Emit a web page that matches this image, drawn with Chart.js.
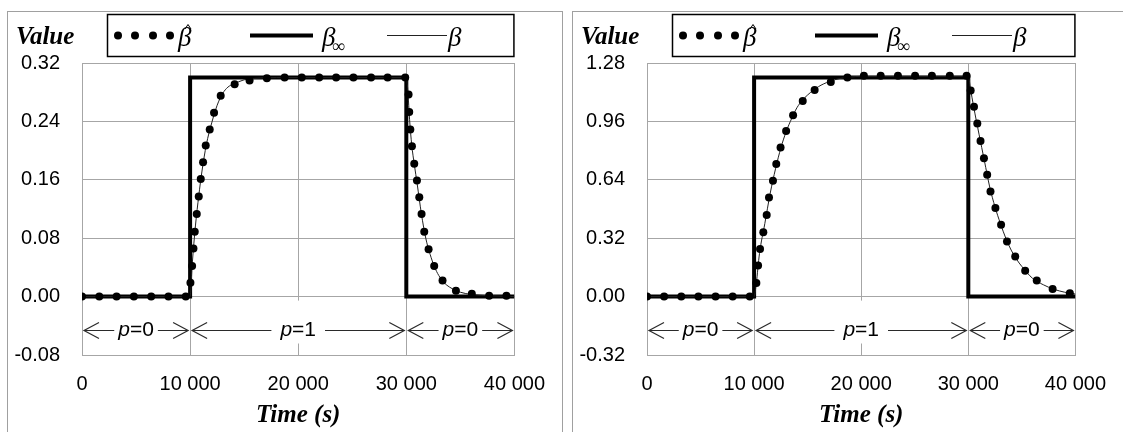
<!DOCTYPE html>
<html>
<head>
<meta charset="utf-8">
<script src="https://cdn.jsdelivr.net/npm/chart.js@4.4.0/dist/chart.umd.min.js"></script>
<style>
  html, body { margin: 0; padding: 0; background: #fff; }
  body { width: 1123px; height: 432px; position: relative; overflow: hidden; }
  .panel { position: absolute; top: 11px; height: 440px; border: 1px solid #a0a0a0; box-sizing: border-box; }
  .wrap { position: absolute; top: 0; height: 432px; }
</style>
</head>
<body>
<div class="panel" style="left:7px;width:556px"></div>
<div class="panel" style="left:572px;width:600px"></div>
<div class="wrap" style="left:0;width:562px"><canvas id="chartA"></canvas></div>
<div class="wrap" style="left:566px;width:557px"><canvas id="chartB"></canvas></div>
<script>
// x axis ticks (s) and the three p-periods
const timeTicks = [0, 10000, 20000, 30000, 40000];
const periodEdges = [0, 10000, 30000, 40000];
const periodLabels = ['0', '1', '0'];

// left panel: estimate (dots), steady state (thick), true value (thin)
const hatTimesA = [0, 1600, 3200, 4800, 6400, 8000, 9600,
  10030, 10185, 10310, 10430, 10615, 10800, 10985, 11200, 11445, 11815, 12215, 12830, 14120, 15500, 17100, 18740,
  20330, 21940, 23510, 25110, 26740, 28270, 29900,
  30210, 30270, 30370, 30520, 30735, 30985, 31200, 31410, 31660, 32060, 32580, 33350, 34590, 36060, 37660, 39260];
const hatValuesA = [0, 0, 0, 0, 0, 0, 0,
  0.019, 0.042, 0.066, 0.089, 0.113, 0.137, 0.161, 0.184, 0.207, 0.229, 0.252, 0.275, 0.291, 0.296, 0.299, 0.300,
  0.300, 0.300, 0.300, 0.300, 0.300, 0.300, 0.300,
  0.277, 0.253, 0.229, 0.206, 0.182, 0.159, 0.136, 0.113, 0.089, 0.065, 0.042, 0.022, 0.008, 0.004, 0.001, 0.001];
const stepTimesA = [0, 10000, 10000, 30000, 30000, 40000];
const stepValuesA = [0, 0, 0.30, 0.30, 0, 0];
const betaTimesA = [0, 10000, 10200, 10500, 10800, 11100, 11500, 12000, 12500, 13000, 13500, 14000, 15000, 16000, 18000,
  30000, 30100, 30200, 30300, 30500, 30750, 31000, 31400, 31800, 32200, 32600, 33000, 33500, 34000, 35000, 36000, 38000, 40000];
const betaValuesA = [0, 0, 0.045, 0.098, 0.138, 0.172, 0.208, 0.238, 0.262, 0.278, 0.287, 0.291, 0.297, 0.299, 0.300,
  0.300, 0.290, 0.268, 0.243, 0.208, 0.180, 0.155, 0.113, 0.080, 0.058, 0.041, 0.029, 0.019, 0.013, 0.006, 0.003, 0.001, 0];
const valueTicksA = [-0.08, 0.00, 0.08, 0.16, 0.24, 0.32];

// right panel
const hatTimesB = [0, 1600, 3200, 4800, 6400, 8000, 9600,
  10210, 10370, 10555, 10860, 11175, 11390, 11760, 12070, 12470, 12990, 13640, 14540, 15650, 17160, 18710, 20250,
  21820, 23430, 25030, 26600, 28270, 29840,
  30220, 30530, 30840, 31140, 31460, 31760, 32070, 32530, 33060, 33610, 34380, 35310, 36390, 37870, 39480];
const hatValuesB = [0, 0, 0, 0, 0, 0, 0,
  0.075, 0.170, 0.261, 0.352, 0.447, 0.543, 0.635, 0.726, 0.817, 0.908, 0.994, 1.072, 1.132, 1.176, 1.200, 1.210,
  1.210, 1.210, 1.210, 1.210, 1.210, 1.210,
  1.130, 1.040, 0.948, 0.853, 0.758, 0.667, 0.576, 0.485, 0.394, 0.302, 0.220, 0.142, 0.088, 0.042, 0.018];
const stepTimesB = [0, 10000, 10000, 30000, 30000, 40000];
const stepValuesB = [0, 0, 1.20, 1.20, 0, 0];
const betaTimesB = [0, 10000, 10200, 10500, 11000, 11500, 12000, 12500, 13000, 13500, 14000, 14500, 15000, 16000, 17000, 18000, 19000, 20000,
  30000, 30200, 30500, 31000, 31500, 32000, 32500, 33000, 33500, 34000, 34500, 35000, 36000, 37000, 38000, 39000, 40000];
const betaValuesB = [0, 0, 0.070, 0.235, 0.400, 0.565, 0.700, 0.815, 0.905, 0.975, 1.035, 1.075, 1.105, 1.150, 1.178, 1.195, 1.203, 1.207,
  1.207, 1.140, 1.040, 0.890, 0.745, 0.600, 0.490, 0.400, 0.320, 0.255, 0.205, 0.165, 0.100, 0.065, 0.040, 0.024, 0.014];
const valueTicksB = [-0.32, 0.00, 0.32, 0.64, 0.96, 1.28];

const SERIF = '"Liberation Serif", "Times New Roman", serif';
const SANS = '"Liberation Sans", Arial, sans-serif';

Chart.defaults.font.family = SANS;
Chart.defaults.font.size = 20;
Chart.defaults.color = '#000';

function toPoints(xs, ys) {
  return xs.map((t, i) => ({ x: t, y: ys[i] }));
}

function fmtTime(v) {
  return String(v).replace(/\B(?=(\d{3})+(?!\d))/g, ' ');
}

// "p=0" style text: italic p, upright rest
function periodText(ctx, label, cx, cy) {
  const pFont = 'italic 21px ' + SANS;
  const rFont = '21px ' + SANS;
  ctx.font = pFont;
  const wp = ctx.measureText('p').width;
  ctx.font = rFont;
  const wr = ctx.measureText('=' + label).width;
  const w = wp + wr;
  const x0 = cx - w / 2;
  ctx.textBaseline = 'middle';
  ctx.textAlign = 'left';
  ctx.fillStyle = '#000';
  ctx.font = pFont;
  ctx.fillText('p', x0, cy);
  ctx.font = rFont;
  ctx.fillText('=' + label, x0 + wp, cy);
  return w;
}

function arrowHead(ctx, x, y, dir) {
  ctx.beginPath();
  ctx.moveTo(x + dir * 15, y - 8);
  ctx.lineTo(x, y);
  ctx.lineTo(x + dir * 15, y + 8);
  ctx.stroke();
}

function betaGlyph(ctx, x, baseline) {
  ctx.font = 'italic 27px ' + SERIF;
  ctx.textAlign = 'left';
  ctx.textBaseline = 'alphabetic';
  ctx.fillStyle = '#000';
  ctx.fillText('β', x, baseline);
  return ctx.measureText('β').width;
}

const decorations = {
  id: 'decorations',
  beforeDatasetsDraw(chart) {
    const { ctx, chartArea, scales: { x, y } } = chart;
    const y0 = y.getPixelForValue(0);
    const rowY = Math.round(y0 + (chartArea.bottom - y0) * 0.57) + 0.5;
    ctx.save();
    ctx.strokeStyle = '#2a2a2a';
    ctx.lineWidth = 1.2;
    for (let i = 0; i < periodLabels.length; i++) {
      const xa = x.getPixelForValue(periodEdges[i]) + 2;
      const xb = x.getPixelForValue(periodEdges[i + 1]) - 2;
      const cx = (xa + xb) / 2;
      ctx.font = 'italic 21px ' + SANS;
      const wp = ctx.measureText('p').width;
      ctx.font = '21px ' + SANS;
      const w = wp + ctx.measureText('=' + periodLabels[i]).width;
      // white text box sits over the grid
      ctx.fillStyle = '#fff';
      ctx.fillRect(cx - w / 2 - 6, y0 + 4, w + 12, rowY + 13 - (y0 + 4));
      periodText(ctx, periodLabels[i], cx, rowY);
      const gap = i === 1 ? 9 : 4;
      ctx.beginPath();
      ctx.moveTo(xa, rowY);
      ctx.lineTo(cx - w / 2 - gap, rowY);
      ctx.moveTo(cx + w / 2 + gap, rowY);
      ctx.lineTo(xb, rowY);
      ctx.stroke();
      arrowHead(ctx, xa, rowY, 1);
      arrowHead(ctx, xb, rowY, -1);
    }
    ctx.restore();
  },
  afterDraw(chart) {
    const { ctx, chartArea } = chart;
    ctx.save();
    // axis titles
    ctx.fillStyle = '#000';
    ctx.font = 'bold italic 25px ' + SERIF;
    ctx.textBaseline = 'alphabetic';
    ctx.textAlign = 'left';
    ctx.fillText('Value', chartArea.left - 66, 44);
    ctx.textAlign = 'center';
    ctx.fillText('Time (s)', (chartArea.left + chartArea.right) / 2, 422);

    // legend box
    const L = chartArea.left + 25;
    const R = chartArea.right - 1;
    const T = 14, B = 56, cy = 35.5;
    ctx.fillStyle = '#fff';
    ctx.fillRect(L, T, R - L, B - T);
    ctx.strokeStyle = '#000';
    ctx.lineWidth = 1.5;
    ctx.strokeRect(L + 0.5, T + 0.5, R - L, B - T);

    ctx.fillStyle = '#000';
    [11, 28, 46, 63].forEach(dx => {
      ctx.beginPath();
      ctx.arc(L + dx, cy, 4, 0, Math.PI * 2);
      ctx.fill();
    });
    betaGlyph(ctx, L + 71, 46);
    ctx.lineWidth = 1;
    ctx.beginPath();
    ctx.moveTo(L + 78, 29);
    ctx.lineTo(L + 81, 24.5);
    ctx.lineTo(L + 84, 29);
    ctx.stroke();

    ctx.lineWidth = 4;
    ctx.beginPath();
    ctx.moveTo(L + 143, cy);
    ctx.lineTo(L + 206, cy);
    ctx.stroke();
    const wb = betaGlyph(ctx, L + 215, 46);
    ctx.font = 'italic 18px ' + SERIF;
    ctx.fillText('∞', L + 215 + wb - 3, 52);

    ctx.lineWidth = 1;
    ctx.strokeStyle = '#222';
    ctx.beginPath();
    ctx.moveTo(L + 280, cy);
    ctx.lineTo(L + 340, cy);
    ctx.stroke();
    betaGlyph(ctx, L + 341, 46);
    ctx.restore();
  }
};

function makeChart(id, hat, beta, step, valueTicks, yWidth, padRight) {
  const ctx = document.getElementById(id).getContext('2d');
  return new Chart(ctx, {
    type: 'scatter',
    data: {
      datasets: [
        {
          label: 'β̂',
          data: hat,
          showLine: false,
          pointRadius: 4,
          pointBackgroundColor: '#000',
          pointBorderWidth: 0,
          order: 0
        },
        {
          label: 'β',
          data: beta,
          showLine: true,
          borderColor: '#222',
          borderWidth: 1,
          pointRadius: 0,
          cubicInterpolationMode: 'monotone',
          order: 1
        },
        {
          label: 'β∞',
          data: step,
          showLine: true,
          borderColor: '#000',
          borderWidth: 4,
          pointRadius: 0,
          tension: 0,
          borderJoinStyle: 'miter',
          order: 2
        }
      ]
    },
    options: {
      responsive: true,
      maintainAspectRatio: false,
      animation: false,
      devicePixelRatio: 1,
      layout: { padding: { top: 63, right: padRight, bottom: 0, left: 0 } },
      plugins: {
        legend: { display: false },
        tooltip: { enabled: false }
      },
      scales: {
        x: {
          type: 'linear',
          min: timeTicks[0],
          max: timeTicks[timeTicks.length - 1],
          afterBuildTicks: s => { s.ticks = timeTicks.map(v => ({ value: v })); },
          afterFit: s => { s.height = 77; },
          ticks: {
            padding: 17,
            maxRotation: 0,
            autoSkip: false,
            callback: v => fmtTime(v)
          },
          grid: { color: '#a6a6a6', drawTicks: false },
          border: { color: '#a6a6a6' }
        },
        y: {
          min: valueTicks[0],
          max: valueTicks[valueTicks.length - 1],
          afterBuildTicks: s => { s.ticks = valueTicks.map(v => ({ value: v })); },
          afterFit: s => { s.width = yWidth; },
          ticks: {
            padding: 22,
            callback: v => (Math.abs(v) < 1e-9 ? 0 : v).toFixed(2)
          },
          grid: { color: '#a6a6a6', drawTicks: false },
          border: { color: '#a6a6a6' }
        }
      }
    },
    plugins: [decorations]
  });
}

makeChart('chartA', toPoints(hatTimesA, hatValuesA), toPoints(betaTimesA, betaValuesA),
  toPoints(stepTimesA, stepValuesA), valueTicksA, 82, 47);
makeChart('chartB', toPoints(hatTimesB, hatValuesB), toPoints(betaTimesB, betaValuesB),
  toPoints(stepTimesB, stepValuesB), valueTicksB, 81, 44);
</script>
</body>
</html>
